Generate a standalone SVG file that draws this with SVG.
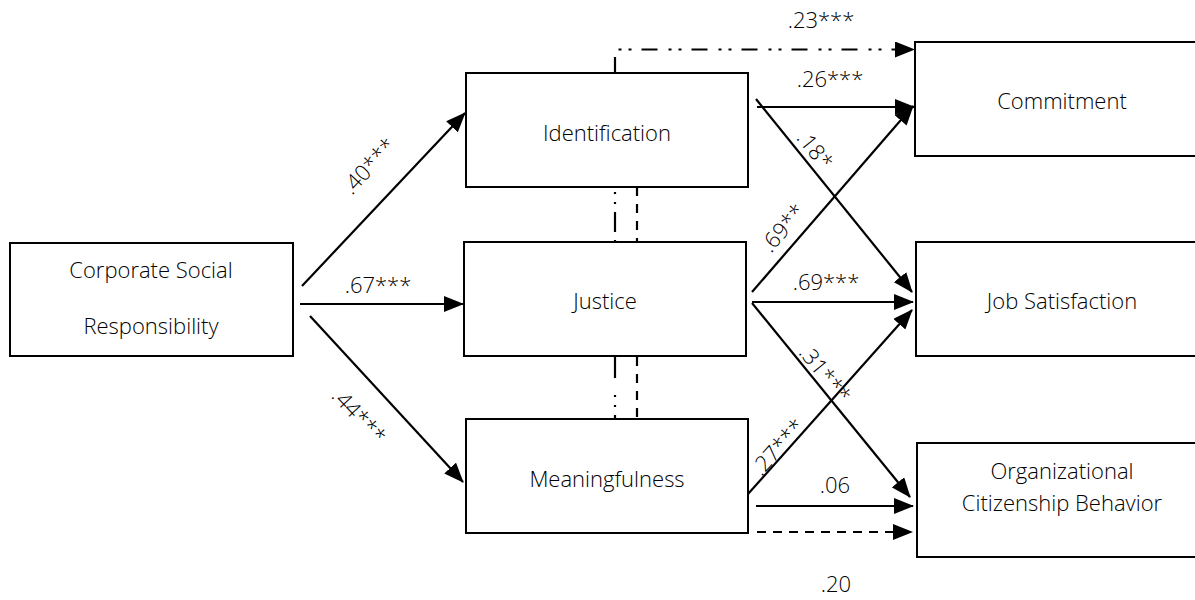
<svg xmlns="http://www.w3.org/2000/svg" width="1195" height="600" viewBox="0 0 1195 600">
<defs>
<marker id="ah" markerWidth="20" markerHeight="16" refX="19" refY="8" orient="auto" markerUnits="userSpaceOnUse">
<path d="M0,0 L20,8 L0,16 z" fill="#000"/>
</marker>
<style>
.box{fill:#fff;stroke:#000;stroke-width:2}
.t{font-family:"Open Sans","Liberation Sans",sans-serif;font-size:22px;font-weight:350;fill:#000;text-anchor:middle}
.l{font-family:"Open Sans","Liberation Sans",sans-serif;font-size:22px;font-weight:350;fill:#000;text-anchor:middle}
.c{fill:none;stroke:#000;stroke-width:2.2}
.arr{marker-end:url(#ah)}
.dd{stroke-dasharray:16 11 3 7 3 10}
.da{stroke-dasharray:9 7}
</style>
</defs>
<rect width="1195" height="600" fill="#fff"/>
<g id="connectors">
<path class="c arr" d="M302,286 L465,113"/>
<path class="c arr" d="M300,304 L463,304"/>
<path class="c arr" d="M310,316 L463,482"/>
<path class="c arr dd" d="M615,73 V49.5 H914"/>
<path class="c arr" d="M757,107 L914,107"/>
<path class="c arr" d="M756,99 L912,292"/>
<path class="c arr" d="M752,292 L913,106"/>
<path class="c arr" d="M752,302 L913,302"/>
<path class="c arr" d="M752,303 L910,497"/>
<path class="c arr" d="M748,494 L912,310"/>
<path class="c arr" d="M756,506 L913,506"/>
<path class="c arr da" d="M757,532 H912"/>
<path class="c" d="M615,187 V242" stroke-dasharray="20 8 2 8 2 8" stroke-dashoffset="23"/>
<path class="c" d="M637,187 V242" stroke-dasharray="9 8"/>
<path class="c" d="M615,356 V419" stroke-dasharray="22 17 2 8 2 8"/>
<path class="c" d="M637,356 V419" stroke-dasharray="9 8" stroke-dashoffset="-1"/>
</g>
<g id="labels">
<text class="l" x="821" y="28">.23***</text>
<text class="l" x="830" y="87">.26***</text>
<text class="l" x="378" y="293">.67***</text>
<text class="l" x="826" y="290">.69***</text>
<text class="l" x="835" y="493">.06</text>
<text class="l" x="836" y="592">.20</text>
<text class="l" transform="translate(369,166) rotate(-47)" dy="0.35em">.40***</text>
<text class="l" transform="translate(359,416) rotate(47)" dy="0.35em">.44***</text>
<text class="l" transform="translate(815,150) rotate(51)" dy="0.35em">.18*</text>
<text class="l" transform="translate(783,228) rotate(-49)" dy="0.35em">.69**</text>
<text class="l" transform="translate(825,374) rotate(51)" dy="0.35em">.31***</text>
<text class="l" transform="translate(778,447) rotate(-48)" dy="0.35em">.27***</text>
</g>
<g id="csr">
<rect class="box" x="10" y="243" width="283" height="113"/>
<text class="t" x="151" y="278">Corporate Social</text>
<text class="t" x="151" y="334">Responsibility</text>
</g>
<g id="identification">
<rect class="box" x="466" y="73" width="282" height="114"/>
<text class="t" x="607" y="141">Identification</text>
</g>
<g id="justice">
<rect class="box" x="464" y="242" width="282" height="114"/>
<text class="t" x="605" y="309">Justice</text>
</g>
<g id="meaningfulness">
<rect class="box" x="466" y="419" width="282" height="114"/>
<text class="t" x="607" y="487">Meaningfulness</text>
</g>
<g id="commitment">
<rect class="box" x="915" y="42" width="295" height="114"/>
<text class="t" x="1062" y="109">Commitment</text>
</g>
<g id="jobsat">
<rect class="box" x="916" y="242" width="295" height="114"/>
<text class="t" x="1062" y="309">Job Satisfaction</text>
</g>
<g id="ocb">
<rect class="box" x="917" y="443" width="295" height="114"/>
<text class="t" x="1062" y="479">Organizational</text>
<text class="t" x="1062" y="511">Citizenship Behavior</text>
</g>
</svg>
